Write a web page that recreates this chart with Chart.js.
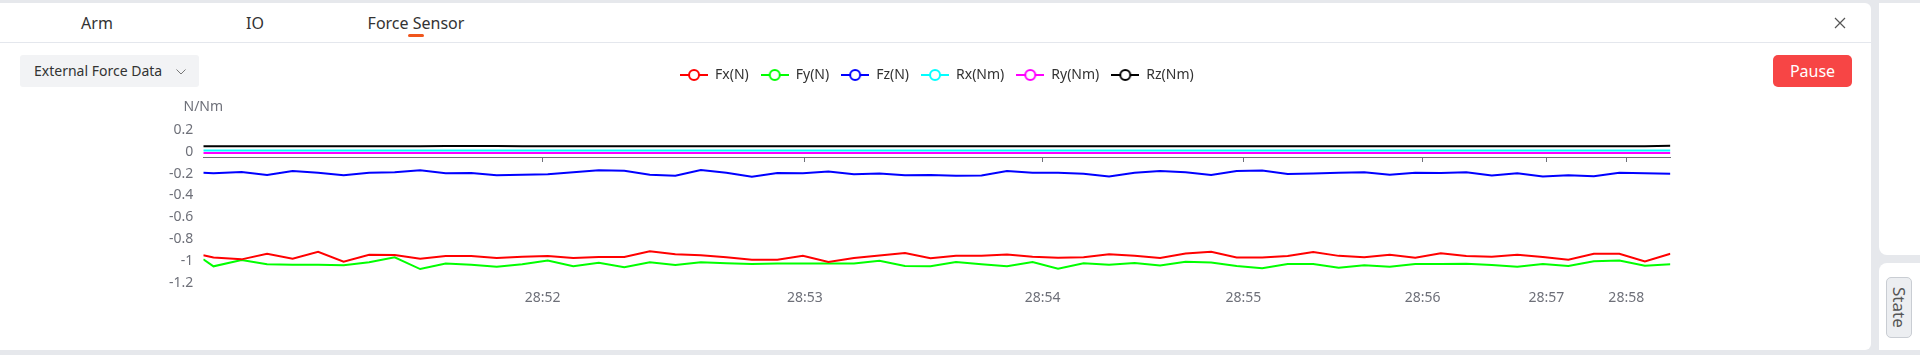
<!DOCTYPE html>
<html>
<head>
<meta charset="utf-8">
<script src="https://cdn.jsdelivr.net/npm/chart.js@4.4.1/dist/chart.umd.min.js"></script>
<style>
  html, body { margin: 0; padding: 0; }
  body { width: 1920px; height: 355px; overflow: hidden; background: #e6e8ec; position: relative; font-family: "Noto Sans", sans-serif; }
  .abs { position: absolute; }
  #panel { left: 0; top: 3px; width: 1871px; height: 347px; background: #fff; border-radius: 0 6px 6px 0; }
  .tab { top: 12px; height: 22px; line-height: 22px; font-size: 16px; color: #333; transform: translateX(-50%); white-space: nowrap; }
  #tabLine { left: 408px; top: 34px; width: 16px; height: 3px; border-radius: 2px; background: #f0561d; }
  #divider { left: 0; top: 42px; width: 1871px; height: 1px; background: #e4e7ed; }
  #close { left: 1834px; top: 17px; }
  #picker { left: 20px; top: 55px; width: 179px; height: 32px; background: #f2f3f5; border-radius: 3px; font-size: 14px; color: #333; line-height: 32px; padding-left: 14px; box-sizing: border-box; }
  #picker svg { position: absolute; left: 156px; top: 14px; }
  #pause { left: 1773px; top: 55px; width: 79px; height: 32px; background: #f74545; border-radius: 5px; color: #fff; font-size: 16px; line-height: 32px; text-align: center; }
  #rTop { left: 1879px; top: 3px; width: 41px; height: 252px; background: #fff; border-radius: 0 0 0 8px; }
  #rBot { left: 1879px; top: 263px; width: 41px; height: 87px; background: #fff; border-radius: 8px 0 0 0; }
  #state { left: 1886px; top: 277px; width: 26px; height: 61px; background: #eceef1; border: 1px solid #c9cdd3; border-radius: 5px; box-sizing: border-box; writing-mode: vertical-rl; font-size: 17px; color: #555; line-height: 24px; text-align: center; }
  #chartBox { left: 0; top: 56px; width: 1871px; height: 294px; }
</style>
</head>
<body>
<div id="panel" class="abs"></div>
<div class="abs tab" style="left:97px">Arm</div>
<div class="abs tab" style="left:255px">IO</div>
<div class="abs tab" style="left:416px">Force Sensor</div>
<div id="tabLine" class="abs"></div>
<div id="divider" class="abs"></div>
<svg id="close" class="abs" width="12" height="12"><path d="M1 1L11 11M11 1L1 11" stroke="#555" stroke-width="1.2" fill="none"/></svg>
<div id="picker" class="abs">External Force Data<svg width="10" height="6"><polyline points="0.5,0.5 5,5 9.5,0.5" stroke="#777" stroke-width="1" fill="none"/></svg></div>
<div id="pause" class="abs">Pause</div>
<div id="rTop" class="abs"></div>
<div id="rBot" class="abs"></div>
<div id="state" class="abs">State</div>
<div id="chartBox" class="abs"><canvas id="forceChart"></canvas></div>

<script>
// sample positions (sample periods from the first reading)
const sampleX = [0, 0.4, 1.5, 2.5, 3.5, 4.5, 5.5, 6.5, 7.5, 8.5, 9.5,
  10.5, 11.5, 12.5, 13.5, 14.5, 15.5, 16.5, 17.5, 18.5, 19.5,
  20.5, 21.5, 22.5, 23.5, 24.5, 25.5, 26.5, 27.5, 28.5, 29.5,
  30.5, 31.5, 32.5, 33.5, 34.5, 35.5, 36.5, 37.5, 38.5, 39.5,
  40.5, 41.5, 42.5, 43.5, 44.5, 45.5, 46.5, 47.5, 48.5, 49.5,
  50.5, 51.5, 52.5, 53.5, 54.5, 55.5, 56.5, 57.5]

// where the minute labels sit on the sample axis
const tickPos = [13.3, 23.58, 32.9, 40.76, 47.79, 52.64, 55.77]
const tickLabels = ['28:52', '28:53', '28:54', '28:55', '28:56', '28:57', '28:58']

const fx = [-0.949, -0.969,
  -0.986, -0.935, -0.980, -0.917, -1.008, -0.943, -0.946, -0.980, -0.955, -0.955,
  -0.974, -0.962, -0.955, -0.974, -0.965, -0.965, -0.911, -0.940, -0.949, -0.967,
  -0.989, -0.989, -0.953, -1.010, -0.974, -0.951, -0.928, -0.976, -0.954, -0.954,
  -0.942, -0.962, -0.971, -0.967, -0.940, -0.954, -0.974, -0.932, -0.917, -0.969,
  -0.969, -0.955, -0.919, -0.954, -0.966, -0.943, -0.971, -0.930, -0.955, -0.962,
  -0.944, -0.965, -0.989, -0.935, -0.935, -1.006, -0.934]

const fy = [-0.986, -1.050,
  -0.992, -1.031, -1.035, -1.035, -1.040, -1.013, -0.967, -1.075, -1.024, -1.036,
  -1.053, -1.031, -0.997, -1.049, -1.017, -1.059, -1.013, -1.038, -1.013, -1.022,
  -1.029, -1.024, -1.024, -1.024, -1.024, -0.998, -1.047, -1.049, -1.010, -1.031,
  -1.049, -1.010, -1.072, -1.022, -1.035, -1.020, -1.042, -1.009, -1.015, -1.047,
  -1.067, -1.029, -1.029, -1.063, -1.040, -1.053, -1.029, -1.029, -1.027, -1.038,
  -1.053, -1.029, -1.047, -1.004, -0.997, -1.045, -1.031]

const fz = [-0.192, -0.197,
  -0.185, -0.213, -0.176, -0.192, -0.215, -0.192, -0.188, -0.170, -0.197, -0.194,
  -0.215, -0.210, -0.206, -0.188, -0.170, -0.174, -0.211, -0.219, -0.167, -0.192,
  -0.229, -0.194, -0.196, -0.181, -0.206, -0.199, -0.215, -0.213, -0.219, -0.217,
  -0.176, -0.192, -0.192, -0.201, -0.226, -0.192, -0.176, -0.188, -0.213, -0.176,
  -0.171, -0.204, -0.199, -0.193, -0.187, -0.210, -0.193, -0.194, -0.188, -0.217,
  -0.196, -0.226, -0.215, -0.224, -0.193, -0.196, -0.201]

const rx = [0.011, 0.011,
  0.011, 0.011, 0.011, 0.011, 0.011, 0.011, 0.011, 0.011, 0.011, 0.011,
  0.011, 0.011, 0.011, 0.011, 0.011, 0.011, 0.011, 0.011, 0.011, 0.011,
  0.011, 0.011, 0.011, 0.011, 0.011, 0.011, 0.011, 0.011, 0.011, 0.011,
  0.011, 0.011, 0.011, 0.011, 0.011, 0.011, 0.011, 0.011, 0.011, 0.011,
  0.011, 0.011, 0.011, 0.011, 0.011, 0.011, 0.011, 0.011, 0.011, 0.011,
  0.011, 0.011, 0.011, 0.011, 0.011, 0.011, 0.011]

const ry = [-0.011, -0.011,
  -0.011, -0.011, -0.011, -0.011, -0.011, -0.011, -0.011, -0.011, -0.011, -0.011,
  -0.011, -0.011, -0.011, -0.011, -0.011, -0.011, -0.011, -0.011, -0.011, -0.011,
  -0.011, -0.011, -0.011, -0.011, -0.011, -0.011, -0.011, -0.011, -0.011, -0.011,
  -0.011, -0.011, -0.011, -0.011, -0.011, -0.011, -0.011, -0.011, -0.011, -0.011,
  -0.011, -0.011, -0.011, -0.011, -0.011, -0.011, -0.011, -0.011, -0.011, -0.011,
  -0.011, -0.011, -0.011, -0.011, -0.011, -0.011, -0.011]

const rz = [0.050, 0.050,
  0.050, 0.050, 0.050, 0.050, 0.050, 0.050, 0.050, 0.051, 0.053, 0.054,
  0.053, 0.051, 0.050, 0.050, 0.050, 0.050, 0.050, 0.050, 0.050, 0.050,
  0.050, 0.050, 0.050, 0.050, 0.050, 0.050, 0.050, 0.050, 0.050, 0.050,
  0.050, 0.050, 0.050, 0.050, 0.050, 0.050, 0.050, 0.050, 0.050, 0.050,
  0.050, 0.050, 0.050, 0.050, 0.050, 0.050, 0.050, 0.050, 0.050, 0.050,
  0.050, 0.050, 0.050, 0.050, 0.050, 0.052, 0.055]

const seriesNames = ['Fx(N)', 'Fy(N)', 'Fz(N)', 'Rx(Nm)', 'Ry(Nm)', 'Rz(Nm)']
const seriesColors = ['#ff0000', '#00ff00', '#0000ff', '#00ffff', '#ff00ff', '#000000']
const seriesValues = [fx, fy, fz, rx, ry, rz]

const yMin = -1.2
const yMax = 0.2
const yStep = 0.2
const axisLineAt = -0.048 // the x axis line sits just under zero

const FONT = 'Noto Sans'
const AXIS_GREY = '#6e7079'

// legend marker: short line with a hollow circle
function legendIcon(color) {
    const c = document.createElement('canvas')
    c.width = 28
    c.height = 14
    const g = c.getContext('2d')
    g.strokeStyle = color
    g.lineWidth = 2
    g.beginPath()
    g.moveTo(0, 7)
    g.lineTo(28, 7)
    g.stroke()
    g.beginPath()
    g.arc(14, 7, 5, 0, Math.PI * 2)
    g.fillStyle = '#fff'
    g.fill()
    g.stroke()
    return c
}
const legendIcons = seriesColors.map(legendIcon)

const setTicks = (scale) => {
    scale.ticks = tickPos.map(v => ({ value: v }))
}

const chartExtras = {
    id: 'chartExtras',
    beforeInit(chart) {
        // push the plot down below the legend, like the original
        const fit = chart.legend.fit
        chart.legend.fit = function () {
            fit.call(this)
            this.height += 38
        }
    },
    afterDraw(chart) {
        const { ctx, chartArea } = chart
        ctx.save()
        ctx.font = '14px "' + FONT + '"'
        ctx.fillStyle = AXIS_GREY
        ctx.textAlign = 'center'
        ctx.textBaseline = 'middle'
        ctx.fillText('N/Nm', chartArea.left, chartArea.top - 23)
        ctx.restore()
    }
}

new Chart(document.getElementById('forceChart'), {
    type: 'line',
    data: {
        datasets: seriesNames.map((name, i) => ({
            label: name,
            data: sampleX.map((x, j) => ({ x: x, y: seriesValues[i][j] })),
            borderColor: seriesColors[i],
            backgroundColor: seriesColors[i],
            borderWidth: 2,
            pointRadius: 0,
            tension: 0,
            fill: false
        }))
    },
    options: {
        responsive: true,
        maintainAspectRatio: false,
        animation: false,
        events: [],
        layout: {
            padding: { left: 0, right: 200.6, top: 0, bottom: 36.5 }
        },
        plugins: {
            tooltip: { enabled: false },
            legend: {
                position: 'top',
                align: 'center',
                fullSize: false,
                labels: {
                    usePointStyle: true,
                    pointStyleWidth: 28,
                    padding: 12,
                    color: '#333',
                    font: { family: FONT, size: 14 },
                    generateLabels(chart) {
                        const items = Chart.defaults.plugins.legend.labels.generateLabels(chart)
                        items.forEach(it => { it.pointStyle = legendIcons[it.datasetIndex] })
                        return items
                    }
                }
            }
        },
        scales: {
            x: {
                type: 'linear',
                position: 'bottom',
                min: sampleX[0],
                max: sampleX[sampleX.length - 1],
                afterBuildTicks: setTicks,
                grid: { display: false, drawTicks: false },
                border: { display: false },
                ticks: {
                    autoSkip: false,
                    maxRotation: 0,
                    padding: 7,
                    color: AXIS_GREY,
                    font: { family: FONT, size: 14 },
                    callback: (v, i) => tickLabels[i]
                }
            },
            xLine: {
                type: 'linear',
                axis: 'x',
                position: { y: axisLineAt },
                min: sampleX[0],
                max: sampleX[sampleX.length - 1],
                afterBuildTicks: setTicks,
                grid: { display: true, drawOnChartArea: false, drawTicks: true, tickLength: 4, color: AXIS_GREY },
                border: { display: true, color: AXIS_GREY, width: 1 },
                ticks: { display: false }
            },
            y: {
                type: 'linear',
                min: yMin,
                max: yMax,
                afterFit: (scale) => { scale.width = 203.3 },
                grid: { display: false, drawTicks: false },
                border: { display: false },
                ticks: {
                    stepSize: yStep,
                    padding: 10,
                    color: AXIS_GREY,
                    font: { family: FONT, size: 14 },
                    callback: (v) => String(+v.toFixed(1))
                }
            }
        }
    },
    plugins: [chartExtras]
})
</script>
</body>
</html>
